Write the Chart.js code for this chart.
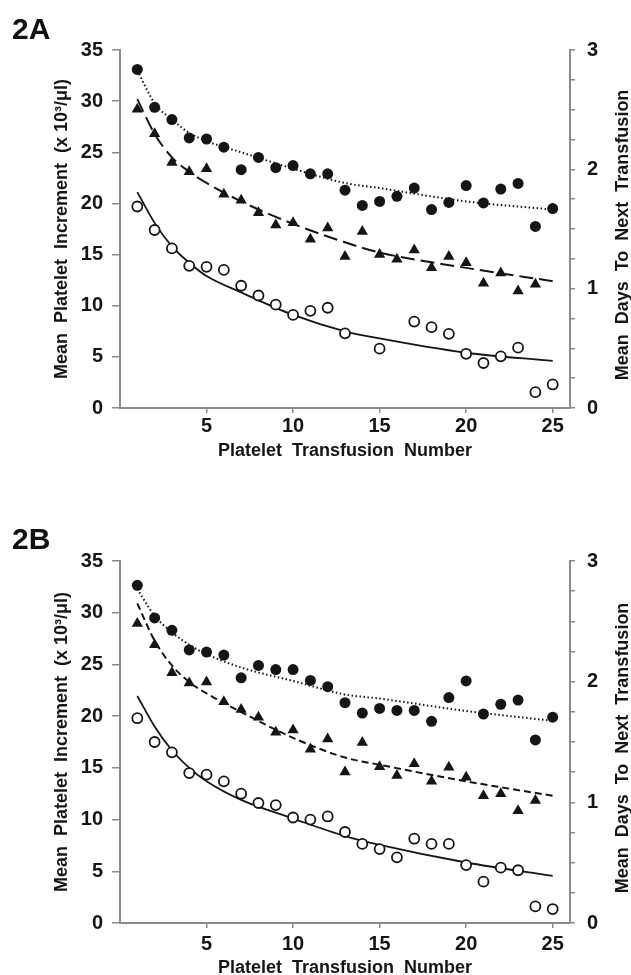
<!DOCTYPE html>
<html>
<head>
<meta charset="utf-8">
<script src="https://cdn.jsdelivr.net/npm/chart.js@4.4.0/dist/chart.umd.min.js"></script>
<style>
  body { margin: 0; background: #fff; width: 631px; height: 975px; position: relative; overflow: hidden;
         font-family: "Liberation Sans", Arial, sans-serif; }
  canvas { position: absolute; left: 0; }
  .panel { position: absolute; left: 12px; font-weight: bold; font-size: 30px; line-height: 30px; color: #111; z-index: 2; }
</style>
</head>
<body>
<canvas id="chartA" width="631" height="480" style="top:0"></canvas>
<canvas id="chartB" width="631" height="495" style="top:480px"></canvas>
<div class="panel" style="top:14px">2A</div>
<div class="panel" style="top:524px">2B</div>
<script>
//------------- DATA -----------------

const transfusion = [1, 2, 3, 4, 5, 6, 7, 8, 9, 10, 11, 12, 13, 14, 15, 16, 17, 18, 19, 20, 21, 22, 23, 24, 25];
const xTicks = [5, 10, 15, 20, 25];
const fitX = [1, 2, 3, 4, 5, 7, 10, 13, 15, 20, 25];

// panel 2A
const aFilled = [33.1, 29.4, 28.2, 26.4, 26.3, 25.5, 23.3, 24.5, 23.5, 23.7, 22.9, 22.9, 21.3,
                 19.8, 20.2, 20.7, 21.5, 19.4, 20.1, 21.75, 20.05, 21.4, 21.95, 17.75, 19.5];
const aTriangle = [29.2, 26.8, 24.0, 23.1, 23.4, 20.9, 20.3, 19.1, 17.9, 18.1, 16.5, 17.6, 14.8,
                   17.25, 15.0, 14.55, 15.45, 13.7, 14.8, 14.2, 12.2, 13.2, 11.45, 12.1, null];
const aOpen = [19.7, 17.4, 15.6, 13.9, 13.8, 13.5, 11.95, 11.0, 10.1, 9.1, 9.5, 9.8, 7.3,
               null, 5.8, null, 8.45, 7.9, 7.25, 5.3, 4.4, 5.05, 5.9, 1.55, 2.3];
const aFitFilled = [33.0, 29.8, 28.2, 26.9, 26.1, 25.0, 23.4, 22.0, 21.5, 20.2, 19.4];
const aFitTriangle = [30.2, 26.8, 24.5, 23.1, 22.0, 20.2, 18.0, 16.2, 15.2, 13.7, 12.4];
const aFitOpen = [21.1, 18.1, 15.8, 14.2, 12.9, 11.3, 9.1, 7.5, 6.8, 5.4, 4.6];

// panel 2B
const bFilled = [32.65, 29.5, 28.3, 26.4, 26.2, 25.9, 23.7, 24.9, 24.5, 24.5, 23.45, 22.85, 21.3,
                 20.3, 20.75, 20.55, 20.55, 19.5, 21.8, 23.4, 20.2, 21.15, 21.55, 17.7, 19.9];
const bTriangle = [28.95, 26.9, 24.2, 23.2, 23.3, 21.4, 20.65, 19.9, 18.45, 18.65, 16.8, 17.8, 14.6,
                   17.45, 15.1, 14.25, 15.4, 13.7, 15.05, 14.1, 12.3, 12.5, 10.85, 11.85, null];
const bOpen = [19.8, 17.5, 16.5, 14.5, 14.35, 13.7, 12.5, 11.6, 11.4, 10.2, 10.0, 10.3, 8.8,
               7.65, 7.15, 6.35, 8.15, 7.65, 7.65, 5.6, 4.0, 5.35, 5.1, 1.6, 1.35];
const bFitFilled = [32.3, 29.7, 28.1, 26.9, 26.0, 24.7, 23.4, 22.1, 21.7, 20.5, 19.55];
const bFitTriangle = [30.9, 27.3, 24.9, 23.3, 22.2, 20.4, 17.9, 16.0, 15.3, 13.7, 12.3];
const bFitOpen = [21.95, 19.0, 16.7, 15.0, 13.7, 11.9, 10.1, 8.4, 7.55, 5.85, 4.55];


//------------- STYLE -----------------

const ink = "#151515";
const axisGray = "#8a8a8a";
const fontFamily = '"Liberation Sans", Arial, sans-serif';

function pts(xs, ys) {
  return xs.map((x, i) => ({x: x, y: ys[i]})).filter(p => p.y !== null);
}

// right-hand axis title reads bottom to top
const rightTitle = {
  id: "rightTitle",
  afterDraw(chart, args, opts) {
    const {ctx, chartArea} = chart;
    ctx.save();
    ctx.translate(opts.x, (chartArea.top + chartArea.bottom) / 2 + opts.dy);
    ctx.rotate(-Math.PI / 2);
    ctx.font = "bold 18px " + fontFamily;
    ctx.fillStyle = ink;
    ctx.textAlign = "center";
    ctx.textBaseline = "middle";
    ctx.fillText(opts.text, 0, 0);
    ctx.restore();
  }
};


//------------- CHART BUILDER -----------------

function makeChart(id, p) {
  const datasets = [
    {data: pts(fitX, p.fitFilled), showLine: true, pointRadius: 0, borderColor: ink, borderWidth: 2,
     borderDash: [1.5, 2.5], cubicInterpolationMode: "monotone", order: 3},
    {data: pts(fitX, p.fitTriangle), showLine: true, pointRadius: 0, borderColor: ink, borderWidth: 2,
     borderDash: p.dash, cubicInterpolationMode: "monotone", order: 3},
    {data: pts(fitX, p.fitOpen), showLine: true, pointRadius: 0, borderColor: ink, borderWidth: 1.8,
     cubicInterpolationMode: "monotone", order: 3},
    {data: pts(transfusion, p.filled), pointStyle: "circle", pointRadius: 5.5,
     backgroundColor: ink, borderColor: ink, borderWidth: 0, order: 1},
    {data: pts(transfusion, p.triangle), pointStyle: "triangle", pointRadius: 6.5,
     backgroundColor: ink, borderColor: ink, borderWidth: 0, order: 1},
    {data: pts(transfusion, p.open), pointStyle: "circle", pointRadius: 5,
     backgroundColor: "#fff", borderColor: ink, borderWidth: 1.8, order: 1}
  ];

  return new Chart(document.getElementById(id), {
    type: "scatter",
    data: {datasets: datasets},
    plugins: [rightTitle],
    options: {
      responsive: false,
      animation: false,
      layout: {padding: {top: p.top, left: 0, right: 0, bottom: 0}},
      plugins: {
        legend: {display: false},
        tooltip: {enabled: false},
        rightTitle: {text: "Mean  Days  To  Next  Transfusion", x: 623, dy: 6}
      },
      scales: {
        x: {
          type: "linear", min: 0, max: 26,
          afterBuildTicks: s => { s.ticks = xTicks.map(v => ({value: v})); },
          afterFit: s => { s.height = p.xHeight; },
          grid: {drawOnChartArea: false, color: axisGray, lineWidth: 1.5, tickLength: 5},
          border: {color: axisGray, width: 2},
          ticks: {color: ink, padding: p.xTickPad, font: {family: fontFamily, size: 20, weight: "bold"}},
          title: {display: true, text: "Platelet  Transfusion  Number", color: ink,
                  font: {family: fontFamily, size: 18, weight: "bold", lineHeight: 1},
                  padding: {top: 0, bottom: p.xTitlePad}}
        },
        y: {
          type: "linear", position: "left", min: 0, max: 35,
          afterFit: s => { s.width = 120; },
          grid: {drawOnChartArea: false, color: axisGray, lineWidth: 1.5, tickLength: 8},
          border: {color: axisGray, width: 2},
          ticks: {stepSize: 5, color: ink, padding: 9, font: {family: fontFamily, size: 20, weight: "bold"}},
          title: {display: true, text: "Mean  Platelet  Increment  (x 10³/μl)", color: ink,
                  font: {family: fontFamily, size: 18, weight: "bold", lineHeight: 1},
                  padding: {top: 53, bottom: 0}}
        },
        y1: {
          type: "linear", position: "right", min: 0, max: 3,
          afterFit: s => { s.width = 61; },
          grid: {drawOnChartArea: false, color: axisGray, lineWidth: 1.5, tickLength: 5},
          border: {color: axisGray, width: 2},
          ticks: {stepSize: 0.25, color: ink, padding: 12,
                  callback: v => Number.isInteger(v) ? v : "",
                  font: {family: fontFamily, size: 20, weight: "bold"}}
        }
      }
    }
  });
}

//------------- CHARTS -----------------

const chartA = makeChart("chartA", {
  top: 50, xHeight: 72, xTickPad: 1, xTitlePad: 19.5, dash: [14, 6],
  filled: aFilled, triangle: aTriangle, open: aOpen,
  fitFilled: aFitFilled, fitTriangle: aFitTriangle, fitOpen: aFitOpen
});

const chartB = makeChart("chartB", {
  top: 81, xHeight: 52, xTickPad: 4, xTitlePad: -2.5, dash: [7, 4],
  filled: bFilled, triangle: bTriangle, open: bOpen,
  fitFilled: bFitFilled, fitTriangle: bFitTriangle, fitOpen: bFitOpen
});
</script>
</body>
</html>
